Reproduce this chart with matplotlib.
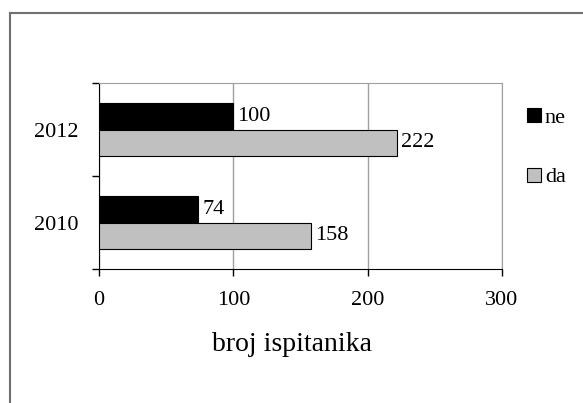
import matplotlib.pyplot as plt
import numpy as np
from matplotlib.lines import Line2D
from matplotlib.patches import Patch

years = ["2010", "2012"]
ne_vals = [74, 100]
da_vals = [158, 222]

plt.rcParams['font.family'] = ['Liberation Serif', 'DejaVu Serif']

fig = plt.figure(figsize=(5.83, 4.03), dpi=100)
ax = fig.add_axes([0.1698, 0.3325, 0.6912, 0.4615])

y = np.arange(len(years))
h = 0.29
b_ne = ax.barh(y + h / 2, ne_vals, height=h, color='black', edgecolor='black', linewidth=0.8, label='ne', zorder=3)
b_da = ax.barh(y - h / 2, da_vals, height=h, color='#c0c0c0', edgecolor='black', linewidth=0.8, label='da', zorder=3)

for bars in (b_ne, b_da):
    ax.bar_label(bars, padding=3, fontsize=16)

ax.set_xlim(0, 300)
ax.set_ylim(-0.5, 1.5)
ax.set_xticks([0, 100, 200, 300])
ax.set_xticklabels(['0', '100', '200', '300'], fontsize=16)
ax.set_yticks(y)
ax.set_yticklabels(years, fontsize=16)
ax.tick_params(axis='y', length=0, pad=15)
ax.set_yticks([-0.5, 0.5, 1.5], minor=True)
ax.tick_params(axis='y', which='minor', length=5, width=1, color='black')
ax.tick_params(axis='x', length=5, width=1, pad=11)
ax.grid(axis='x', color='#a0a0a0', linewidth=1, zorder=0)

ax.spines['top'].set_color('#a0a0a0')
ax.spines['right'].set_color('#a0a0a0')
ax.spines['left'].set_color('black')
ax.spines['bottom'].set_color('black')

ax.set_xlabel('broj ispitanika', fontsize=20, labelpad=16, x=0.479)

handles = [Patch(facecolor='black', edgecolor='black', linewidth=0.8),
           Patch(facecolor='#c0c0c0', edgecolor='black', linewidth=0.8)]
fig.legend(handles, ['ne', 'da'], loc='upper left', bbox_to_anchor=(0.889, 0.755),
           frameon=False, fontsize=16, handlelength=0.6, handleheight=0.6,
           handletextpad=0.2, labelspacing=1.8, borderaxespad=0)

# outer frame (top and left only)
fig.add_artist(Line2D([0.0172, 1.0], [0.968, 0.968], color='#707070', linewidth=1.5, transform=fig.transFigure))
fig.add_artist(Line2D([0.0172, 0.0172], [0.0, 0.968], color='#707070', linewidth=1.5, transform=fig.transFigure))

fig.savefig('out.png', dpi=100)
